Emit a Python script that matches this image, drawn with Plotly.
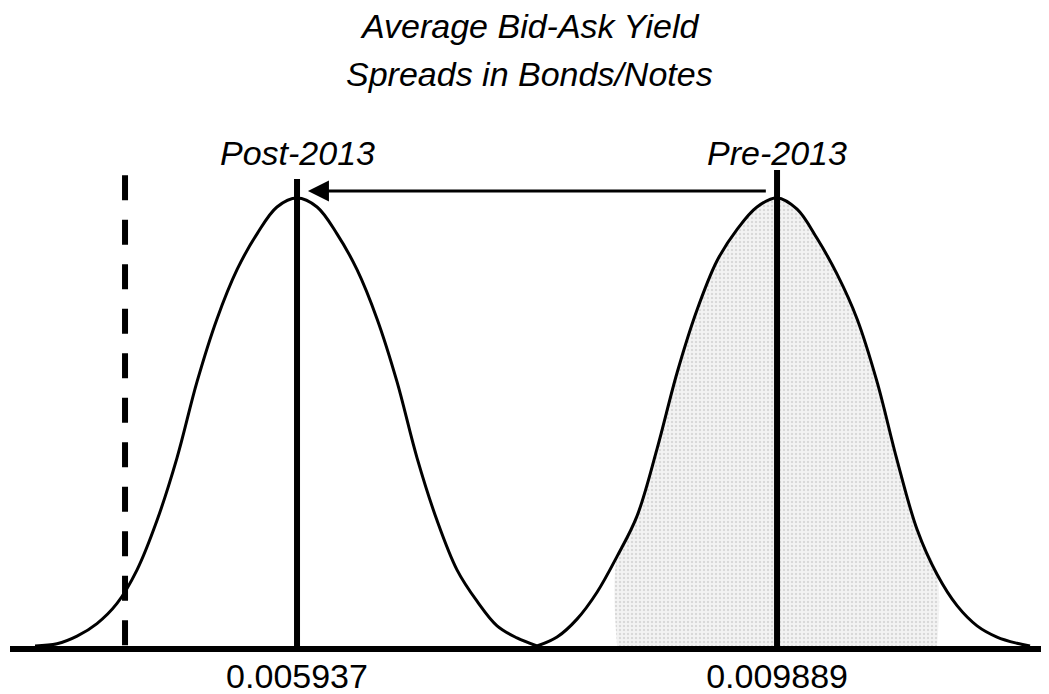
import plotly.graph_objects as go

# ---------------- data ----------------
POST_MEAN = 0.005937
PRE_MEAN = 0.009889
THRESHOLD = 0.004521
TICK_VALS = [POST_MEAN, PRE_MEAN]
TICK_TEXT = ["0.005937", "0.009889"]

# Post-2013 distribution curve (relative density, peak = 1)
post_x = [0.003780, 0.003961, 0.004126, 0.004290, 0.004455, 0.004620, 0.004784,
          0.004949, 0.005114, 0.005278, 0.005443, 0.005608, 0.005772, 0.005937,
          0.006102, 0.006266, 0.006431, 0.006596, 0.006760, 0.006925, 0.007090,
          0.007254, 0.007419, 0.007584, 0.007748, 0.007913]
post_y = [0.000, 0.005, 0.022, 0.050, 0.095, 0.170, 0.280,
          0.420, 0.590, 0.730, 0.840, 0.920, 0.980, 1.000,
          0.980, 0.920, 0.840, 0.730, 0.590, 0.420, 0.280,
          0.170, 0.100, 0.045, 0.018, 0.000]

# Pre-2013 distribution curve (relative density, peak = 1)
pre_x = [0.007913, 0.008078, 0.008242, 0.008407, 0.008572, 0.008736, 0.008901,
         0.009066, 0.009230, 0.009395, 0.009560, 0.009724, 0.009889, 0.010054,
         0.010218, 0.010383, 0.010548, 0.010712, 0.010877, 0.011042, 0.011206,
         0.011371, 0.011536, 0.011700, 0.011865, 0.011972]
pre_y = [0.000, 0.020, 0.060, 0.120, 0.200, 0.290, 0.440,
         0.610, 0.750, 0.860, 0.930, 0.980, 1.000, 0.975,
         0.910, 0.830, 0.730, 0.590, 0.415, 0.260, 0.160,
         0.090, 0.045, 0.020, 0.006, 0.000]

# shaded band under the Pre-2013 curve
SHADE_LO = 0.008572
SHADE_HI = 0.011206

# ---------------- figure ----------------
FONT = "Arial, Liberation Sans, sans-serif"
fig = go.Figure()

shade_x = [x for x in pre_x if SHADE_LO <= x <= SHADE_HI]
shade_y = [y for x, y in zip(pre_x, pre_y) if SHADE_LO <= x <= SHADE_HI]
fig.add_trace(go.Scatter(
    x=[SHADE_LO] + shade_x + [SHADE_HI], y=[0] + shade_y + [0],
    mode="lines", line=dict(width=0, shape="spline", smoothing=1),
    fill="toself", fillcolor="#f1f1f1",
    fillpattern=dict(shape=".", fgcolor="#bdbdbd", bgcolor="#f3f3f3",
                     size=4, solidity=0.3),
    hoverinfo="skip", showlegend=False))

for xs, ys in [(post_x, post_y), (pre_x, pre_y)]:
    fig.add_trace(go.Scatter(
        x=xs, y=ys, mode="lines",
        line=dict(color="black", width=3, shape="spline", smoothing=1),
        hoverinfo="skip", showlegend=False))

# vertical lines (drawn from the top down so the dash pattern starts at the top)
fig.add_shape(type="line", x0=POST_MEAN, x1=POST_MEAN, y0=1.0424, y1=0,
              xref="x", yref="y", line=dict(color="black", width=6))
fig.add_shape(type="line", x0=PRE_MEAN, x1=PRE_MEAN, y0=1.0625, y1=0,
              xref="x", yref="y", line=dict(color="black", width=6))
fig.add_shape(type="line", x0=THRESHOLD, x1=THRESHOLD, y0=1.051, y1=0,
              xref="x", yref="y", line=dict(color="black", width=6, dash="25px,19.5px"))

# arrow from Pre to Post
fig.add_annotation(x=POST_MEAN + 0.00009, y=1.0156, ax=PRE_MEAN - 0.00008, ay=1.0156,
                   xref="x", yref="y", axref="x", ayref="y", text="",
                   showarrow=True, arrowhead=2, arrowsize=1.4, arrowwidth=3,
                   arrowcolor="black")

# labels above the mean lines
for xv, txt in [(POST_MEAN, "Post-2013"), (PRE_MEAN, "Pre-2013")]:
    fig.add_annotation(x=xv, y=1.1004, xref="x", yref="y", text="<i>%s</i>" % txt,
                       showarrow=False, font=dict(family=FONT, size=34, color="black"),
                       xanchor="center", yanchor="middle")

# title (two lines)
for yv, txt in [(1.384, "Average Bid-Ask Yield"), (1.277, "Spreads in Bonds/Notes")]:
    fig.add_annotation(x=0.5, y=yv, xref="paper", yref="y", text="<i>%s</i>" % txt,
                       showarrow=False, font=dict(family=FONT, size=34, color="black"),
                       xanchor="center", yanchor="middle")

# the page body adds an 8px offset; margins compensate so the plot lands in place
fig.update_layout(
    width=1049, height=694,
    paper_bgcolor="white", plot_bgcolor="white",
    margin=dict(l=2, r=8, t=0, b=56),
    xaxis=dict(range=[0.003574, 0.012128], showgrid=False, zeroline=False,
               showline=True, linewidth=6, linecolor="black",
               tickvals=TICK_VALS, ticktext=TICK_TEXT, ticks="",
               ticklabelstandoff=-5,
               tickfont=dict(family=FONT, size=34, color="black")),
    yaxis=dict(range=[0, 638 / 448], visible=False, showgrid=False, zeroline=False),
)

fig.write_html("out.html")
